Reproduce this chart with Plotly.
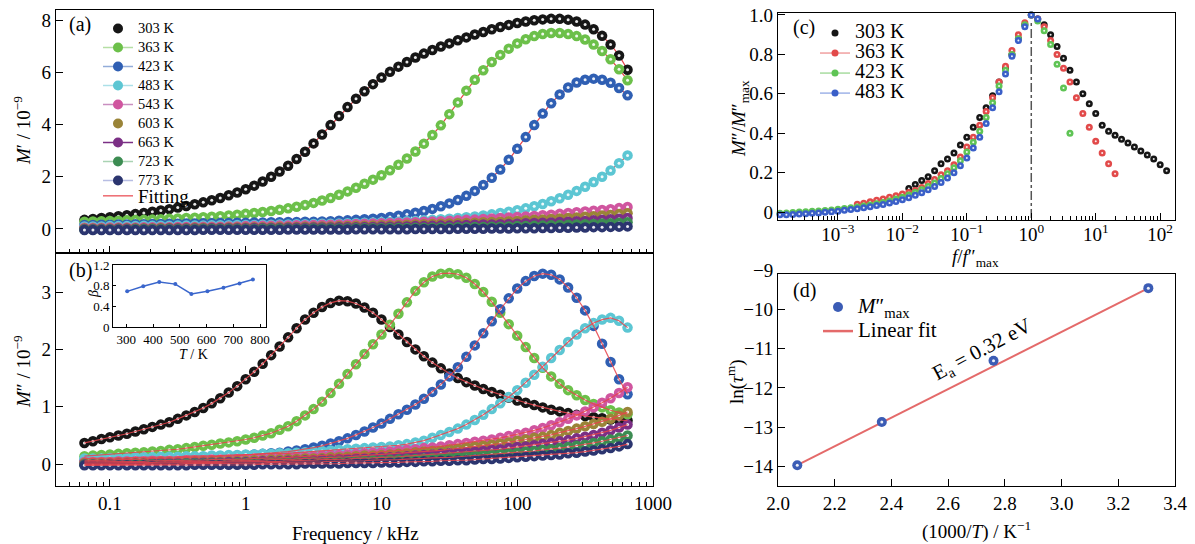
import plotly.graph_objects as go

W, H = 1195, 544
SERIF = "Liberation Serif, Times New Roman, serif"

# ---------------- data ----------------
freq_khz = [0.06494, 0.07499, 0.0866, 0.1, 0.1155, 0.1334, 0.154, 0.1778, 0.2054, 0.2371,
            0.2738, 0.3162, 0.3652, 0.4217, 0.487, 0.5623, 0.6494, 0.7499, 0.866, 1.0,
            1.155, 1.334, 1.54, 1.778, 2.054, 2.371, 2.738, 3.162, 3.652, 4.217,
            4.87, 5.623, 6.494, 7.499, 8.66, 10.0, 11.55, 13.34, 15.4, 17.78,
            20.54, 23.71, 27.38, 31.62, 36.52, 42.17, 48.7, 56.23, 64.94, 74.99,
            86.6, 100.0, 115.5, 133.4, 154.0, 177.8, 205.4, 237.1, 273.8, 316.2,
            365.2, 421.7, 487.0, 562.3, 649.4]

temps = ["303 K", "363 K", "423 K", "483 K", "543 K", "603 K", "663 K", "723 K", "773 K"]

# (a) M' / 1e-9
m1_303 = [0.35, 0.38, 0.42, 0.45, 0.49, 0.53, 0.57, 0.61, 0.66, 0.71, 0.76, 0.82, 0.88, 0.95, 1.02, 1.10, 1.19, 1.29, 1.40, 1.52,
          1.66, 1.82, 2.00, 2.20, 2.42, 2.68, 2.96, 3.28, 3.62, 3.98, 4.33, 4.67, 4.99, 5.28, 5.55, 5.80, 6.02, 6.22, 6.40, 6.57,
          6.72, 6.86, 6.99, 7.11, 7.23, 7.34, 7.45, 7.55, 7.65, 7.74, 7.82, 7.89, 7.95, 8.00, 8.03, 8.05, 8.05, 8.02, 7.95, 7.83,
          7.65, 7.40, 7.07, 6.65, 6.10]
m1_363 = [0.28, 0.29, 0.30, 0.31, 0.32, 0.33, 0.34, 0.35, 0.36, 0.37, 0.39, 0.40, 0.42, 0.43, 0.45, 0.47, 0.49, 0.52, 0.55, 0.58,
          0.61, 0.65, 0.69, 0.74, 0.79, 0.85, 0.92, 1.00, 1.09, 1.19, 1.31, 1.44, 1.58, 1.73, 1.89, 2.06, 2.25, 2.46, 2.70, 2.97,
          3.27, 3.60, 3.97, 4.40, 4.85, 5.30, 5.72, 6.08, 6.40, 6.67, 6.91, 7.11, 7.27, 7.39, 7.47, 7.51, 7.51, 7.47, 7.39, 7.26,
          7.07, 6.82, 6.50, 6.12, 5.70]
m1_423 = [0.15, 0.15, 0.16, 0.16, 0.17, 0.17, 0.18, 0.18, 0.19, 0.19, 0.20, 0.20, 0.21, 0.21, 0.22, 0.22, 0.23, 0.23, 0.24, 0.24,
          0.25, 0.25, 0.26, 0.26, 0.27, 0.27, 0.28, 0.28, 0.29, 0.30, 0.32, 0.33, 0.35, 0.37, 0.39, 0.42, 0.46, 0.51, 0.56, 0.62,
          0.69, 0.77, 0.87, 0.98, 1.11, 1.27, 1.46, 1.69, 1.96, 2.28, 2.65, 3.07, 3.52, 3.98, 4.42, 4.82, 5.15, 5.42, 5.61, 5.72,
          5.76, 5.72, 5.60, 5.40, 5.12]
m1_483 = [0.10, 0.10, 0.10, 0.11, 0.11, 0.11, 0.11, 0.12, 0.12, 0.12, 0.12, 0.13, 0.13, 0.13, 0.13, 0.14, 0.14, 0.14, 0.15, 0.15,
          0.15, 0.16, 0.16, 0.17, 0.17, 0.18, 0.18, 0.19, 0.20, 0.20, 0.21, 0.22, 0.23, 0.24, 0.25, 0.26, 0.27, 0.28, 0.30, 0.31,
          0.33, 0.35, 0.37, 0.39, 0.42, 0.45, 0.48, 0.52, 0.56, 0.61, 0.66, 0.72, 0.79, 0.87, 0.96, 1.06, 1.18, 1.31, 1.46, 1.62,
          1.80, 2.00, 2.24, 2.52, 2.82]
m1_543 = [0.05, 0.05, 0.05, 0.06, 0.06, 0.06, 0.06, 0.07, 0.07, 0.07, 0.07, 0.08, 0.08, 0.08, 0.09, 0.09, 0.09, 0.10, 0.10, 0.11,
          0.11, 0.12, 0.12, 0.13, 0.13, 0.14, 0.14, 0.15, 0.16, 0.16, 0.17, 0.18, 0.19, 0.20, 0.21, 0.22, 0.23, 0.24, 0.25, 0.26,
          0.28, 0.29, 0.30, 0.32, 0.33, 0.35, 0.36, 0.38, 0.40, 0.42, 0.44, 0.46, 0.48, 0.50, 0.53, 0.55, 0.58, 0.61, 0.64, 0.67,
          0.70, 0.73, 0.76, 0.80, 0.84]
m1_603 = [0.02, 0.02, 0.02, 0.02, 0.03, 0.03, 0.03, 0.03, 0.03, 0.04, 0.04, 0.04, 0.04, 0.05, 0.05, 0.05, 0.05, 0.06, 0.06, 0.06,
          0.07, 0.07, 0.07, 0.08, 0.08, 0.08, 0.09, 0.09, 0.10, 0.10, 0.11, 0.11, 0.12, 0.12, 0.13, 0.14, 0.14, 0.15, 0.16, 0.17,
          0.18, 0.19, 0.20, 0.21, 0.22, 0.23, 0.24, 0.26, 0.27, 0.28, 0.30, 0.31, 0.33, 0.35, 0.36, 0.38, 0.40, 0.42, 0.44, 0.47,
          0.49, 0.52, 0.54, 0.57, 0.60]
m1_663 = [0.00, 0.00, 0.00, 0.00, 0.01, 0.01, 0.01, 0.01, 0.01, 0.01, 0.02, 0.02, 0.02, 0.02, 0.02, 0.03, 0.03, 0.03, 0.03, 0.03,
          0.04, 0.04, 0.04, 0.04, 0.05, 0.05, 0.05, 0.06, 0.06, 0.06, 0.07, 0.07, 0.07, 0.08, 0.08, 0.09, 0.09, 0.10, 0.10, 0.11,
          0.11, 0.12, 0.13, 0.13, 0.14, 0.15, 0.16, 0.17, 0.17, 0.18, 0.19, 0.20, 0.22, 0.23, 0.24, 0.25, 0.27, 0.28, 0.30, 0.31,
          0.33, 0.35, 0.37, 0.39, 0.42]
m1_723 = [-0.02, -0.02, -0.02, -0.02, -0.02, -0.02, -0.01, -0.01, -0.01, -0.01, -0.01, -0.01, -0.01, -0.01, 0.00, 0.00, 0.00, 0.00, 0.00, 0.00,
          0.00, 0.01, 0.01, 0.01, 0.01, 0.01, 0.01, 0.02, 0.02, 0.02, 0.02, 0.02, 0.03, 0.03, 0.03, 0.03, 0.04, 0.04, 0.04, 0.05,
          0.05, 0.05, 0.06, 0.06, 0.07, 0.07, 0.08, 0.08, 0.09, 0.09, 0.10, 0.11, 0.11, 0.12, 0.13, 0.14, 0.15, 0.16, 0.17, 0.18,
          0.19, 0.21, 0.22, 0.24, 0.26]
m1_773 = [-0.04, -0.04, -0.04, -0.04, -0.04, -0.04, -0.04, -0.04, -0.04, -0.04, -0.04, -0.04, -0.04, -0.04, -0.03, -0.03, -0.03, -0.03, -0.03, -0.03,
          -0.03, -0.03, -0.03, -0.03, -0.02, -0.02, -0.02, -0.02, -0.02, -0.02, -0.02, -0.02, -0.01, -0.01, -0.01, -0.01, -0.01, -0.01, -0.01, 0.00,
          0.00, 0.00, 0.00, 0.00, 0.01, 0.01, 0.01, 0.01, 0.02, 0.02, 0.02, 0.03, 0.03, 0.03, 0.04, 0.04, 0.05, 0.05, 0.06, 0.06,
          0.07, 0.07, 0.08, 0.09, 0.10]

# (b) M'' / 1e-9
m2_303 = [0.37, 0.40, 0.44, 0.47, 0.50, 0.53, 0.57, 0.61, 0.65, 0.69, 0.73, 0.79, 0.85, 0.91, 0.98, 1.06, 1.15, 1.25, 1.36, 1.48,
          1.61, 1.75, 1.90, 2.05, 2.21, 2.37, 2.52, 2.64, 2.74, 2.81, 2.85, 2.84, 2.80, 2.73, 2.64, 2.52, 2.39, 2.26, 2.13, 2.00,
          1.88, 1.77, 1.67, 1.58, 1.50, 1.43, 1.37, 1.31, 1.26, 1.21, 1.16, 1.11, 1.07, 1.03, 0.99, 0.95, 0.92, 0.89, 0.86, 0.84,
          0.82, 0.80, 0.78, 0.77, 0.76]
m2_363 = [0.14, 0.15, 0.16, 0.17, 0.18, 0.19, 0.20, 0.21, 0.22, 0.23, 0.25, 0.26, 0.28, 0.30, 0.32, 0.34, 0.36, 0.38, 0.40, 0.43,
          0.46, 0.50, 0.54, 0.60, 0.66, 0.75, 0.85, 0.96, 1.09, 1.24, 1.40, 1.57, 1.74, 1.92, 2.09, 2.26, 2.43, 2.62, 2.82, 3.02,
          3.17, 3.27, 3.32, 3.33, 3.31, 3.25, 3.14, 3.00, 2.83, 2.64, 2.44, 2.24, 2.04, 1.85, 1.68, 1.53, 1.40, 1.29, 1.20, 1.12,
          1.05, 0.99, 0.94, 0.90, 0.87]
m2_423 = [0.06, 0.06, 0.07, 0.07, 0.08, 0.08, 0.09, 0.09, 0.10, 0.10, 0.11, 0.11, 0.12, 0.12, 0.13, 0.13, 0.14, 0.14, 0.15, 0.16,
          0.17, 0.18, 0.19, 0.20, 0.22, 0.24, 0.26, 0.29, 0.32, 0.36, 0.40, 0.45, 0.51, 0.57, 0.64, 0.71, 0.79, 0.87, 0.95, 1.04,
          1.14, 1.26, 1.39, 1.53, 1.69, 1.87, 2.07, 2.28, 2.49, 2.70, 2.89, 3.06, 3.19, 3.28, 3.32, 3.30, 3.22, 3.08, 2.90, 2.68,
          2.41, 2.10, 1.78, 1.48, 1.22]
m2_483 = [0.10, 0.10, 0.10, 0.11, 0.11, 0.11, 0.12, 0.12, 0.12, 0.13, 0.13, 0.13, 0.14, 0.14, 0.14, 0.15, 0.15, 0.16, 0.16, 0.17,
          0.17, 0.18, 0.18, 0.19, 0.19, 0.20, 0.21, 0.22, 0.23, 0.24, 0.25, 0.26, 0.27, 0.28, 0.29, 0.30, 0.31, 0.33, 0.35, 0.38,
          0.41, 0.46, 0.51, 0.56, 0.62, 0.69, 0.77, 0.86, 0.96, 1.06, 1.17, 1.29, 1.42, 1.56, 1.70, 1.85, 1.99, 2.13, 2.26, 2.37,
          2.46, 2.52, 2.55, 2.50, 2.38]
m2_543 = [0.04, 0.04, 0.04, 0.04, 0.05, 0.05, 0.05, 0.05, 0.06, 0.06, 0.06, 0.06, 0.07, 0.07, 0.07, 0.08, 0.08, 0.08, 0.09, 0.09,
          0.10, 0.10, 0.11, 0.11, 0.12, 0.13, 0.13, 0.14, 0.15, 0.16, 0.16, 0.17, 0.18, 0.19, 0.20, 0.21, 0.22, 0.24, 0.25, 0.26,
          0.28, 0.29, 0.31, 0.33, 0.35, 0.37, 0.39, 0.41, 0.43, 0.46, 0.49, 0.52, 0.55, 0.59, 0.63, 0.68, 0.73, 0.79, 0.85, 0.92,
          0.99, 1.07, 1.15, 1.24, 1.34]
m2_603 = [0.02, 0.02, 0.02, 0.02, 0.03, 0.03, 0.03, 0.03, 0.03, 0.04, 0.04, 0.04, 0.04, 0.05, 0.05, 0.05, 0.05, 0.06, 0.06, 0.06,
          0.07, 0.07, 0.08, 0.08, 0.09, 0.09, 0.10, 0.10, 0.11, 0.12, 0.12, 0.13, 0.14, 0.15, 0.15, 0.16, 0.17, 0.18, 0.19, 0.21,
          0.22, 0.23, 0.24, 0.26, 0.27, 0.29, 0.31, 0.32, 0.34, 0.36, 0.38, 0.41, 0.43, 0.46, 0.48, 0.51, 0.55, 0.58, 0.62, 0.66,
          0.70, 0.74, 0.79, 0.85, 0.91]
m2_663 = [0.00, 0.00, 0.00, 0.01, 0.01, 0.01, 0.01, 0.01, 0.02, 0.02, 0.02, 0.02, 0.02, 0.03, 0.03, 0.03, 0.03, 0.04, 0.04, 0.04,
          0.04, 0.05, 0.05, 0.05, 0.06, 0.06, 0.07, 0.07, 0.08, 0.08, 0.09, 0.09, 0.10, 0.10, 0.11, 0.12, 0.12, 0.13, 0.14, 0.15,
          0.16, 0.17, 0.18, 0.19, 0.20, 0.21, 0.22, 0.23, 0.25, 0.26, 0.28, 0.30, 0.31, 0.33, 0.35, 0.37, 0.40, 0.42, 0.45, 0.48,
          0.51, 0.55, 0.59, 0.64, 0.69]
m2_723 = [-0.01, -0.01, -0.01, -0.01, -0.01, -0.01, 0.00, 0.00, 0.00, 0.00, 0.00, 0.00, 0.01, 0.01, 0.01, 0.01, 0.01, 0.01, 0.02, 0.02,
          0.02, 0.02, 0.03, 0.03, 0.03, 0.03, 0.04, 0.04, 0.04, 0.05, 0.05, 0.05, 0.06, 0.06, 0.07, 0.07, 0.08, 0.08, 0.09, 0.09,
          0.10, 0.11, 0.11, 0.12, 0.13, 0.14, 0.15, 0.16, 0.17, 0.18, 0.19, 0.20, 0.22, 0.23, 0.25, 0.26, 0.28, 0.30, 0.32, 0.34,
          0.37, 0.40, 0.43, 0.46, 0.50]
m2_773 = [-0.02, -0.02, -0.02, -0.02, -0.02, -0.02, -0.02, -0.02, -0.02, -0.02, -0.02, -0.02, -0.02, -0.01, -0.01, -0.01, -0.01, -0.01, -0.01, -0.01,
          -0.01, 0.00, 0.00, 0.00, 0.00, 0.00, 0.01, 0.01, 0.01, 0.01, 0.01, 0.02, 0.02, 0.02, 0.02, 0.03, 0.03, 0.03, 0.04, 0.04,
          0.05, 0.05, 0.06, 0.06, 0.07, 0.07, 0.08, 0.09, 0.09, 0.10, 0.11, 0.12, 0.13, 0.14, 0.15, 0.16, 0.17, 0.19, 0.20, 0.22,
          0.24, 0.26, 0.28, 0.31, 0.35]

# (b) inset: stretching exponent beta
beta_T = [303, 363, 423, 483, 543, 603, 663, 723, 773]
beta_val = [0.69, 0.79, 0.87, 0.83, 0.64, 0.69, 0.76, 0.84, 0.92]

# (c) normalised M''
c_grid = [1.000e-4, 1.259e-4, 1.585e-4, 1.995e-4, 2.512e-4, 3.162e-4, 3.981e-4, 5.012e-4, 6.310e-4, 7.943e-4,
          1.000e-3, 1.259e-3, 1.585e-3, 1.995e-3, 2.512e-3, 3.162e-3, 3.981e-3, 5.012e-3, 6.310e-3, 7.943e-3,
          1.000e-2, 1.259e-2, 1.585e-2, 1.995e-2, 2.512e-2, 3.162e-2, 3.981e-2, 5.012e-2, 6.310e-2, 7.943e-2,
          0.1000, 0.1259, 0.1585, 0.1995, 0.2512, 0.3162, 0.3981, 0.5012, 0.6310, 0.7943,
          1.000, 1.259, 1.585, 1.995, 2.512, 3.162, 3.981, 5.012, 6.310, 7.943,
          10.00, 12.59, 15.85, 19.95, 25.12, 31.62, 39.81, 50.12, 63.10, 79.43,
          100.0, 125.9]
c_temps = ["303 K", "363 K", "423 K", "483 K"]
c_303 = [0.12, 0.14, 0.16, 0.18, 0.21, 0.245, 0.27, 0.30, 0.34, 0.38, 0.43, 0.48, 0.53, 0.59, 0.66, 0.73, 0.80, 0.88, 0.95, 1.00,
         0.98, 0.95, 0.90, 0.84, 0.78, 0.72, 0.66, 0.60, 0.55, 0.50, 0.44, 0.41, 0.39, 0.37, 0.35, 0.33, 0.31, 0.29, 0.27, 0.24,
         0.21]
c_363 = [0.04, 0.045, 0.053, 0.06, 0.067, 0.075, 0.083, 0.092, 0.10, 0.11, 0.125, 0.145, 0.165, 0.19, 0.21, 0.24, 0.28, 0.33, 0.38, 0.44,
         0.51, 0.58, 0.66, 0.74, 0.82, 0.90, 0.96, 1.00, 0.98, 0.94, 0.87, 0.80, 0.73, 0.66, 0.58, 0.50, 0.43, 0.36, 0.30, 0.245,
         0.195]
c_423 = [-0.006, -0.004, -0.002, 0.0, 0.002, 0.004, 0.006, 0.008, 0.011, 0.014, 0.018, 0.022, 0.026, 0.031, 0.036, 0.042, 0.049, 0.057, 0.066, 0.076,
         0.087, 0.10, 0.113, 0.13, 0.148, 0.17, 0.195, 0.225, 0.26, 0.305, 0.355, 0.41, 0.48, 0.555, 0.64, 0.72, 0.80, 0.88, 0.95, 1.00,
         0.97, 0.92, 0.85, 0.75, 0.63, 0.40]
c_483 = [-0.014, -0.013, -0.012, -0.01, -0.008, -0.006, -0.004, -0.001, 0.002, 0.005, 0.009, 0.013, 0.017, 0.022, 0.027, 0.033, 0.039, 0.046, 0.054, 0.063,
         0.073, 0.085, 0.098, 0.113, 0.13, 0.15, 0.173, 0.20, 0.235, 0.275, 0.325, 0.38, 0.45, 0.53, 0.61, 0.70, 0.79, 0.87, 0.94, 1.00,
         0.98]
c_x303 = c_grid[21:62]
c_x363 = c_grid[13:54]
c_x423 = c_grid[1:47]
c_x483 = c_grid[1:42]
vline_x = [1, 1]
vline_y = [-0.03, 0.96]

# (d) Arrhenius plot
inv_T = [2.068, 2.366, 2.760, 3.306]
ln_tau = [-13.97, -12.87, -11.31, -9.46]
fit_inv_T = [2.068, 3.306]
fit_ln_tau = [-13.97, -9.46]

# ---------------- styles ----------------
colors = ["#161616", "#6cc04a", "#2f5fb3", "#5cc6d3", "#d0559f", "#9a8438", "#7b2f85", "#3c8c52", "#2b356f"]
legend_line = [None, "#b5dfa4", "#93acd9", "#ace0e8", "#c98fc0", None, "#7b2f85", "#a9d3b3", "#b7bde3"]
c_colors = ["#161616", "#e24a4a", "#5fc455", "#3a5fc8"]
c_line = [None, "#f0a0a0", "#a8dca0", "#9fb3e8"]
FIT = "#e8434b"
DOT = "rgba(255,255,255,0.9)"


def px(v):
    return v / W


def py(v):
    return 1 - v / H


m1 = [m1_303, m1_363, m1_423, m1_483, m1_543, m1_603, m1_663, m1_723, m1_773]
m2 = [m2_303, m2_363, m2_423, m2_483, m2_543, m2_603, m2_663, m2_723, m2_773]

fig = go.Figure()

# panel (a): fits underneath, then balls
for ys in m1:
    fig.add_trace(go.Scatter(x=freq_khz, y=ys, mode="lines", line=dict(color=FIT, width=1.2),
                             xaxis="x", yaxis="y", showlegend=False, hoverinfo="skip"))
for ys, c in zip(m1, colors):
    fig.add_trace(go.Scatter(x=freq_khz, y=ys, mode="markers", marker=dict(size=10.5, color=c, line=dict(width=0)),
                             xaxis="x", yaxis="y", showlegend=False))
    fig.add_trace(go.Scatter(x=freq_khz, y=ys, mode="markers", marker=dict(size=3, color=DOT),
                             xaxis="x", yaxis="y", showlegend=False, hoverinfo="skip"))

# panel (b): balls, then fits on top
for ys, c in zip(m2, colors):
    fig.add_trace(go.Scatter(x=freq_khz, y=ys, mode="markers", marker=dict(size=10.5, color=c, line=dict(width=0)),
                             xaxis="x2", yaxis="y2", showlegend=False))
    fig.add_trace(go.Scatter(x=freq_khz, y=ys, mode="markers", marker=dict(size=3, color=DOT),
                             xaxis="x2", yaxis="y2", showlegend=False, hoverinfo="skip"))
for ys in m2:
    fig.add_trace(go.Scatter(x=freq_khz, y=ys, mode="lines", line=dict(color=FIT, width=1.2), opacity=0.85,
                             xaxis="x2", yaxis="y2", showlegend=False, hoverinfo="skip"))

# legend of panel (a)
for name, c, lc in zip(temps, colors, legend_line):
    fig.add_trace(go.Scatter(x=[None], y=[None], mode="markers" if lc is None else "lines+markers",
                             name="<span style='font-size:14.5px'>%s</span>" % name,
                             marker=dict(size=10, color=c), line=dict(color=lc or c, width=1.5),
                             legend="legend", xaxis="x", yaxis="y"))
fig.add_trace(go.Scatter(x=[None], y=[None], mode="lines", name="Fitting",
                         line=dict(color=FIT, width=1.2), legend="legend4", xaxis="x", yaxis="y"))

# inset
fig.add_trace(go.Scatter(x=beta_T, y=beta_val, mode="lines+markers", line=dict(color="#3a66cc", width=1.5),
                         marker=dict(size=4, color="#3a66cc"), xaxis="x5", yaxis="y5", showlegend=False))

# panel (c)
for xs, ys, c in zip([c_x303, c_x363, c_x423, c_x483], [c_303, c_363, c_423, c_483], c_colors):
    fig.add_trace(go.Scatter(x=xs, y=ys, mode="markers", marker=dict(size=7, color=c, line=dict(width=0)),
                             xaxis="x3", yaxis="y3", showlegend=False, cliponaxis=False))
    fig.add_trace(go.Scatter(x=xs, y=ys, mode="markers", marker=dict(size=2, color=DOT),
                             xaxis="x3", yaxis="y3", showlegend=False, cliponaxis=False, hoverinfo="skip"))
fig.add_trace(go.Scatter(x=vline_x, y=vline_y, mode="lines", line=dict(color="#555555", width=1.5, dash="dashdot"),
                         xaxis="x3", yaxis="y3", showlegend=False))
for name, c, lc in zip(c_temps, c_colors, c_line):
    fig.add_trace(go.Scatter(x=[None], y=[None], mode="markers" if lc is None else "lines+markers",
                             name="<span style='font-size:20px'>%s</span>" % name,
                             marker=dict(size=7, color=c), line=dict(color=lc or c, width=1.5),
                             legend="legend2", xaxis="x3", yaxis="y3"))

# panel (d)
fig.add_trace(go.Scatter(x=fit_inv_T, y=fit_ln_tau, mode="lines", line=dict(color="#e46a6a", width=2),
                         xaxis="x4", yaxis="y4", showlegend=False))
fig.add_trace(go.Scatter(x=inv_T, y=ln_tau, mode="markers", marker=dict(size=10, color="#3b5cb5"),
                         xaxis="x4", yaxis="y4", showlegend=False, cliponaxis=False))
fig.add_trace(go.Scatter(x=inv_T, y=ln_tau, mode="markers", marker=dict(size=3, color=DOT),
                         xaxis="x4", yaxis="y4", showlegend=False, cliponaxis=False, hoverinfo="skip"))
fig.add_trace(go.Scatter(x=[None], y=[None], mode="markers",
                         name="<span style='font-size:21px'><i>M</i>″<sub>max</sub></span>",
                         marker=dict(size=10, color="#3b5cb5"), legend="legend3", xaxis="x4", yaxis="y4"))
fig.add_trace(go.Scatter(x=[None], y=[None], mode="lines",
                         name="<span style='font-size:21px'>Linear fit</span>",
                         line=dict(color="#e46a6a", width=2.5), legend="legend3", xaxis="x4", yaxis="y4"))

# ---------------- axes ----------------
base = dict(showline=True, linecolor="black", linewidth=1.3, mirror=True, ticks="inside", ticklen=7,
            tickwidth=1.2, tickcolor="black", showgrid=False, zeroline=False, automargin=False,
            tickfont=dict(family=SERIF, size=19, color="black"))
minor_log = dict(ticks="inside", ticklen=4, tickcolor="black", dtick="D1", showgrid=False)

xa = dict(base, domain=[px(56), px(653)], type="log", range=[-1.397, 3.0],
          tickvals=[0.1, 1, 10, 100, 1000], showticklabels=False, anchor="y", minor=minor_log)
xb = dict(base, domain=[px(56), px(653)], type="log", range=[-1.397, 3.0],
          tickvals=[0.1, 1, 10, 100, 1000], ticktext=["0.1", "1", "10", "100", "1000"], anchor="y2", minor=minor_log)
ya = dict(base, domain=[py(253), py(10)], range=[-0.92, 8.39], tickvals=[0, 2, 4, 6, 8], anchor="x")
yb = dict(base, domain=[py(486), py(253)], range=[-0.38, 3.68], tickvals=[0, 1, 2, 3], anchor="x2")

xc = dict(base, domain=[px(778), px(1175)], type="log", range=[-3.93, 2.23],
          tickvals=[1e-3, 1e-2, 1e-1, 1, 10, 100],
          ticktext=["10<sup>−3</sup>", "10<sup>−2</sup>", "10<sup>−1</sup>", "10<sup>0</sup>", "10<sup>1</sup>", "10<sup>2</sup>"],
          anchor="y3", minor=minor_log, ticklabelstandoff=-3)
yc = dict(base, domain=[py(220), py(13)], range=[-0.04, 1.01], tickvals=[0, 0.2, 0.4, 0.6, 0.8, 1.0],
          ticktext=["0", "0.2", "0.4", "0.6", "0.8", "1.0"], anchor="x3")
xd = dict(base, domain=[px(778), px(1175)], range=[2.0, 3.4],
          tickvals=[2.0, 2.2, 2.4, 2.6, 2.8, 3.0, 3.2, 3.4],
          ticktext=["2.0", "2.2", "2.4", "2.6", "2.8", "3.0", "3.2", "3.4"], anchor="y4")
yd = dict(base, domain=[py(486), py(274)], range=[-14.5, -9.1], tickvals=[-14, -13, -12, -11, -10], anchor="x4")

small = dict(base, ticklen=3, tickfont=dict(family=SERIF, size=13, color="black"), linewidth=1)
xi = dict(small, domain=[px(113), px(266)], range=[250, 822], tickvals=[300, 400, 500, 600, 700, 800], anchor="y5")
yi = dict(small, domain=[py(327), py(265)], range=[0, 1.2], tickvals=[0, 0.4, 0.8, 1.2],
          ticktext=["0", "0.4", "0.8", "1.2"], anchor="x5")


def ann(text, x, y, size=19, angle=0, **kw):
    d = dict(text=text, x=px(x), y=py(y), xref="paper", yref="paper", showarrow=False,
             font=dict(family=SERIF, size=size, color="black"), textangle=angle,
             xanchor="center", yanchor="middle")
    d.update(kw)
    return d


annotations = [
    ann("(a)", 80, 25, 20), ann("(b)", 81, 270, 20), ann("(c)", 804, 27, 20), ann("(d)", 804, 290, 20),
    ann("<i>M</i>′ / 10<sup>−9</sup>", 22, 131, 19, -90),
    ann("<i>M</i>″ / 10<sup>−9</sup>", 22, 372, 19, -90),
    ann("Frequency / kHz", 355, 533, 19),
    ann("<i>M</i>″/<i>M</i>″<sub>max</sub>", 740, 118, 19, -90),
    ann("<i>f</i>/<i>f</i>″<sub>max</sub>", 975, 258, 19),
    ann("ln(<i>τ</i><sup>m</sup>)", 735, 382, 19, -90),
    ann("(1000/<i>T</i>) / K<sup>−1</sup>", 976, 530, 19),
    ann("<i>β</i>", 93, 294, 14, -90),
    ann("<i>T</i> / K", 193, 354, 14),
    ann("−9", 775, 270, 19, xanchor="right"),
    dict(text="E<sub>a</sub> = 0.32 eV", x=2.72, y=-11.03, xref="x4", yref="y4", showarrow=False,
         font=dict(family=SERIF, size=21, color="black"), textangle=-28),
]

leg_common = dict(xanchor="left", yanchor="top", bgcolor="rgba(0,0,0,0)", borderwidth=0,
                  tracegroupgap=0, itemclick=False, itemdoubleclick=False)

fig.update_layout(
    width=W, height=H, margin=dict(l=0, r=0, t=0, b=0, autoexpand=False),
    paper_bgcolor="white", plot_bgcolor="white",
    font=dict(family=SERIF, color="black"),
    showlegend=True,
    xaxis=xa, yaxis=ya, xaxis2=xb, yaxis2=yb, xaxis3=xc, yaxis3=yc, xaxis4=xd, yaxis4=yd,
    xaxis5=xi, yaxis5=yi,
    legend=dict(leg_common, x=px(98), y=py(14), font=dict(family=SERIF, size=11.5, color="black")),
    legend4=dict(leg_common, x=px(98), y=py(177), font=dict(family=SERIF, size=19, color="black")),
    legend2=dict(leg_common, x=px(815), y=py(18), font=dict(family=SERIF, size=13.1, color="black")),
    legend3=dict(leg_common, x=px(818), y=py(290), font=dict(family=SERIF, size=16.2, color="black")),
    annotations=annotations,
)

fig.write_html("out.html", config={"displayModeBar": False},
               post_script="document.body.style.margin='0px';document.body.style.padding='0px';"
                           "document.body.style.overflow='hidden';")
